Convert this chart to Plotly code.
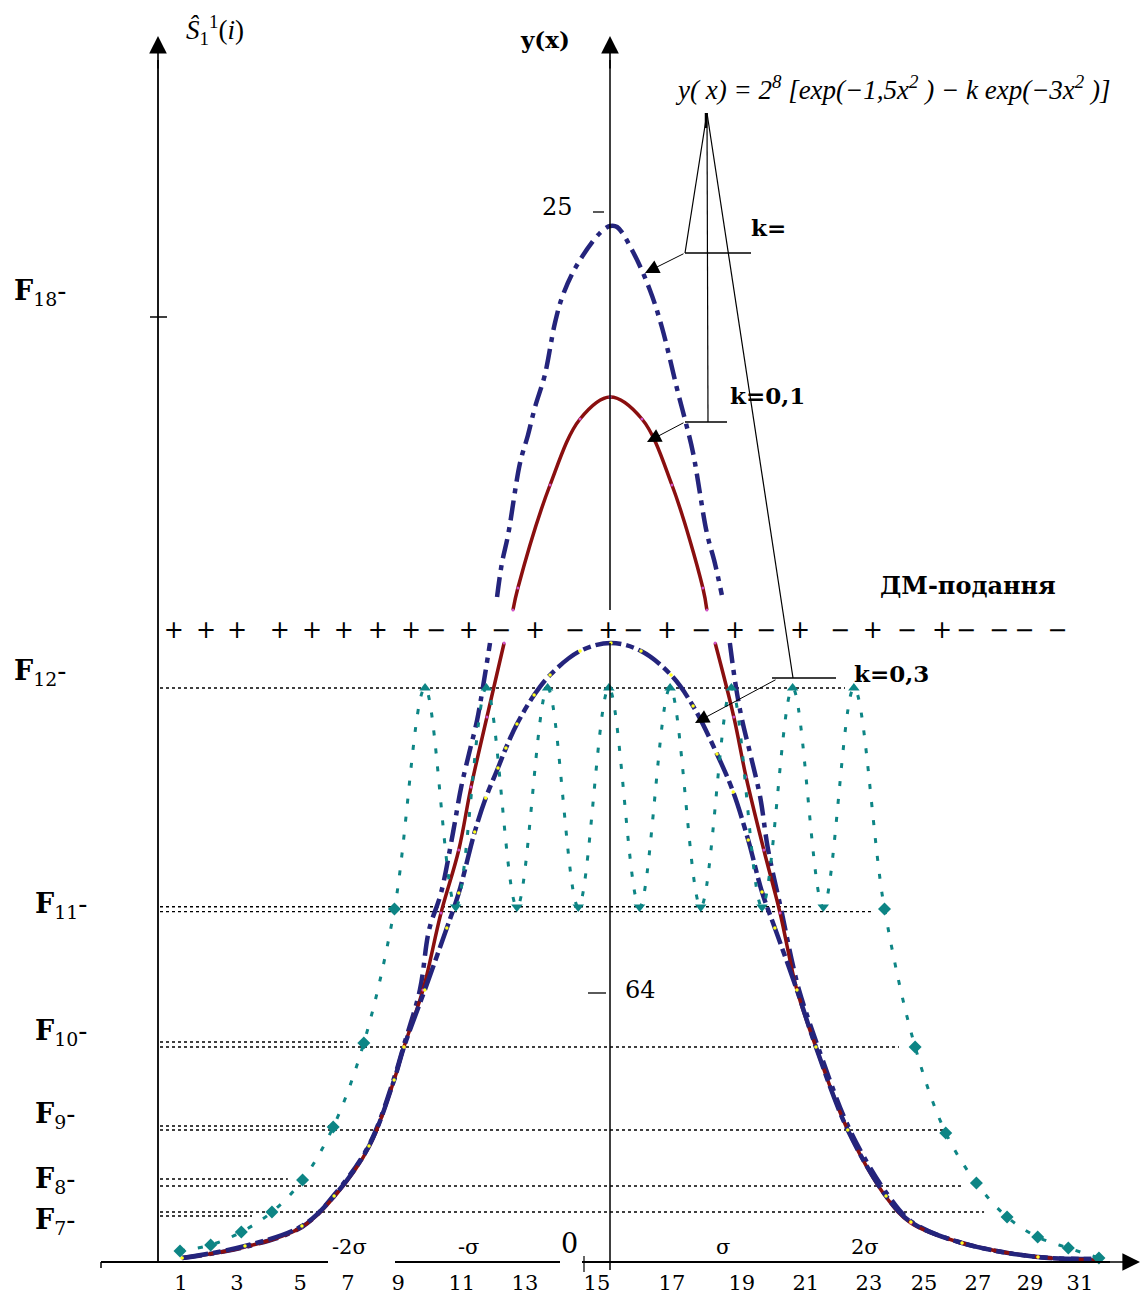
import plotly.graph_objects as go

W, H = 1141, 1299

# ---------------------------------------------------------------- data
# DM-representation (teal dotted curve), one value per sample index i
dm_index = list(range(1, 32))
dm_values = [2.25, 3.75, 7, 12, 20, 33.25, 54.25, 87.75, 143, 88.25, 143, 88.25,
             143, 88.25, 143, 88.25, 143, 88.25, 143, 88.25, 143, 88.25, 143,
             87.75, 53.25, 31.75, 19.25, 10.75, 5.75, 3, 0.5]

# y(x) for k = 0.1 (dark red, solid); None = break at the DM row
k01_x = [1.07, 3.12, 4.98, 6.03, 7.17, 7.99, 8.31, 8.93, 9.52, 10.10, 10.50, 11.02,
         11.58, None, 11.87, 12.03, 13.08, 14.06, 15.04, 16.08, 17.06,
         18.07, 18.20, None, 18.47, 19.08, 19.48, 20.06, 20.59, 21.14, 21.76, 22.80,
         24.05, 24.86, 26.53, 29.01, 31.0]
k01_y = [0.5, 3.25, 8.25, 15.75, 28.25, 45, 53.25, 67.5, 86.75, 102.5, 118.25, 135.75,
         154.25, None, 162.5, 168, 193.75, 210.25, 215.75, 210.25, 193.75,
         168, 162.5, None, 154.25, 135.75, 120.75, 102.5, 86.75, 67.5, 53.25, 32.5,
         15.75, 9.25, 4.25, 0.75, 0]

# y(x) for k = 0 ("k=", navy dash-dot)
k0_x = [1.07, 3.12, 4.98, 6.03, 7.17, 7.99, 8.31, 8.83, 9.13, 9.52, 9.91, 10.18, 10.44,
        10.70, 10.89, 11.12, None, 11.35, 11.51, 11.71, 12.10, 12.36, 12.59, 12.91,
        13.24, 13.50, 13.96, 14.71, 15.04, 15.27, 15.79, 16.34, 16.73, 17.26, 17.49,
        17.75, 18.20, 18.46, 18.69, None, 18.95, 19.15, 19.35, 19.61, 19.94, 20.20,
        20.65, 20.97, 21.21, 21.83, 22.87, 24.11, 24.90, 26.53, 29.01, 31.0]
k0_y = [0.5, 3.25, 8.25, 16.25, 28.75, 45.5, 53.75, 67.5, 82.5, 91.75, 106.75, 118.25,
        126.75, 135, 143.25, 154.25, None, 165.75, 174.25, 181.25, 199.25, 206.25,
        213.25, 221.25, 234.25, 241.25, 248.75, 256.75, 258.5, 258.25, 252, 242.5,
        233.25, 216.75, 210, 201.75, 181.75, 174.25, 166.25, None, 154.25, 143.25,
        135, 126.75, 115.75, 102.5, 86.75, 75, 67.5, 53.25, 32.5, 16.25, 9.5, 4.25,
        0.75, 0.25]

# y(x) for k = 0.3 (navy, dashed)
k03_x = [1.07, 3.12, 4.98, 6.03, 7.17, 7.99, 8.31, 8.99, 9.71, 10.10, 10.62, 10.98,
         11.38, 11.64, 12.00, 12.56, 13.08, 14.06, 15.07, 16.05, 17.03, 17.75, 18.53,
         19.06, 19.55, 20.00, 20.42, 21.14, 21.76, 22.80, 24.05, 24.86, 26.53, 29.01, 31.0]
k03_y = [0.5, 3.5, 8.5, 16, 28.5, 45, 53.25, 67.5, 83, 91.75, 107, 115.5, 123,
         128, 134, 141.25, 146.25, 152.25, 154.25, 152.25, 146.25, 138.5, 126.5,
         117, 105, 92, 83, 67.5, 53.25, 32.5, 16, 9.5, 4.25, 0.75, 0.25]

# DM code signs and where they sit along the index axis
dm_signs = ["+", "+", "+", "+", "+", "+", "+", "+",
            "−", "+", "−", "+", "−", "+", "−", "+", "−", "+", "−", "+", "−", "+", "−", "+",
            "−", "−", "−", "−", "−", "−"][:28]
dm_sign_x = [0.80, 1.85, 2.86, 4.26, 5.31, 6.35, 7.46, 8.54, 9.36, 10.43, 11.48, 12.59,
             13.89, 14.98, 15.79, 16.90, 18.01, 19.12, 20.13, 21.24, 22.55, 23.62, 24.73,
             25.88, 26.66, 27.74, 28.56, 29.64]
dm_row_level = 157

# quantisation levels (dotted lines): level value and index where the line ends
level_y = [143, 88.3, 87.1, 54.5, 53.25, 33.5, 32.5, 20.25, 18.5, 12, 11]
level_end = [22.71, 21.63, 23.59, 6.48, 24.47, 5.99, 25.94, 4.52, 26.56, 27.25, 3.35]

# x tick labels and where they are printed
xtick_labels = [1, 3, 5, 7, 9, 11, 13, 15, 17, 19, 21, 23, 25, 27, 29, 31]
xtick_pos = [1.03, 2.86, 4.92, 6.48, 8.12, 10.20, 12.26, 14.61, 17.06, 19.34, 21.43,
             23.49, 25.29, 27.05, 28.75, 30.38]

# ---------------------------------------------------------------- layout helpers
X0, XS = 149.4, 30.63
Y0, YS = 1260.0, 4.0


def px_to_x(px):
    return (px - X0) / XS


def py_to_y(py):
    return (Y0 - py) / YS


def fx(px):
    return px / W


def fy(py):
    return 1 - py / H


NAVY = "#24247c"
RED = "#8a0f0f"
TEAL = "#0d8585"
SERIF = "DejaVu Serif"

fig = go.Figure()

# level dotted lines
lx, ly = [], []
for lv, le in zip(level_y, level_end):
    lx += [px_to_x(160), le, None]
    ly += [lv, lv, None]
fig.add_trace(go.Scatter(x=lx, y=ly, mode="lines",
                         line=dict(color="black", width=1.4, dash="dot"),
                         hoverinfo="skip"))

fig.add_trace(go.Scatter(x=k0_x, y=k0_y, mode="lines",
                         line=dict(color=NAVY, width=4.5, dash="20px,7px,5px,7px",
                                   shape="spline", smoothing=1.0),
                         hoverinfo="skip"))
fig.add_trace(go.Scatter(x=k01_x, y=k01_y, mode="lines+markers",
                         line=dict(color=RED, width=3.5, shape="spline", smoothing=1.0),
                         marker=dict(color="#d050c8", size=3, line=dict(width=0)),
                         hoverinfo="skip"))
fig.add_trace(go.Scatter(x=k03_x, y=k03_y, mode="lines+markers",
                         line=dict(color=NAVY, width=4.5, dash="26px,5px,8px,5px",
                                   shape="spline", smoothing=1.0),
                         marker=dict(color="#ffff20", size=3.5, line=dict(width=0)),
                         hoverinfo="skip"))

symbols = []
for j, v in enumerate(dm_values):
    p = dm_values[j - 1] if j > 0 else None
    n = dm_values[j + 1] if j < len(dm_values) - 1 else None
    if p is not None and n is not None and v > p and v > n:
        symbols.append("triangle-up")
    elif p is not None and n is not None and v < p and v < n:
        symbols.append("triangle-down")
    else:
        symbols.append("diamond")
fig.add_trace(go.Scatter(x=dm_index, y=dm_values, mode="lines+markers",
                         line=dict(color=TEAL, width=3, dash="5px,13px",
                                   shape="spline", smoothing=1.0),
                         marker=dict(color=TEAL, size=10, symbol=symbols, line=dict(width=0)),
                         hoverinfo="skip"))

# DM sign row
fig.add_trace(go.Scatter(x=dm_sign_x, y=[dm_row_level] * len(dm_sign_x), mode="text",
                         text=dm_signs, textposition="middle center",
                         textfont=dict(family="DejaVu Sans", size=24, color="black"),
                         cliponaxis=False, hoverinfo="skip"))

# x tick labels
fig.add_trace(go.Scatter(x=xtick_pos, y=[py_to_y(1285)] * len(xtick_pos), mode="text",
                         text=[str(t) for t in xtick_labels], textposition="middle center",
                         textfont=dict(family=SERIF, size=21, color="black"),
                         cliponaxis=False, hoverinfo="skip"))

shapes = []


def seg(x1, y1, x2, y2, w=1.3, color="black"):
    shapes.append(dict(type="line", xref="paper", yref="paper",
                       x0=fx(x1), y0=fy(y1), x1=fx(x2), y1=fy(y2),
                       line=dict(color=color, width=w)))


# axes
seg(158, 1262, 158, 60, 1.8)
seg(150, 317, 167, 317, 1.5)
seg(610, 610, 610, 60, 1.5)
seg(610, 643, 610, 1270, 1.5)
seg(101, 1262, 328, 1262, 1.8)
seg(101, 1262, 101, 1268, 1.5)
seg(395, 1262, 560, 1262, 1.8)
seg(582, 1262, 1110, 1262, 1.8)
seg(584, 1256, 584, 1272, 1.2)
seg(593, 212, 604, 212, 1.3)
seg(588, 993, 606, 993, 1.3)

# leader lines
seg(707, 113, 685, 253, 1.2)
seg(707, 113, 708, 422, 1.2)
seg(707, 113, 793, 678, 1.2)
seg(706, 113, 706, 128, 2.5)
seg(685, 253, 751, 253, 1.3)
seg(685, 422, 727, 422, 1.3)
seg(772, 678, 836, 678, 1.3)

ann = []


def arrow(tipx, tipy, tailx, taily, w=1.0, size=2.8):
    ann.append(dict(xref="paper", yref="paper", x=fx(tipx), y=fy(tipy),
                    ax=tailx - tipx, ay=taily - tipy, axref="pixel", ayref="pixel",
                    showarrow=True, arrowhead=2, arrowsize=size, arrowwidth=w,
                    arrowcolor="black", text=""))


arrow(158, 36, 158, 70, 1.6, 2.2)
arrow(610, 36, 610, 70, 1.6, 2.2)
arrow(1140, 1262, 1100, 1262, 1.6, 2.2)
arrow(645, 273, 685, 253)
arrow(647, 442, 685, 422)
arrow(695, 723, 777, 679)


def text(px, py, s, size=22, family=SERIF, xanchor="center", bold=False, italic=False):
    if bold:
        s = "<b>" + s + "</b>"
    if italic:
        s = "<i>" + s + "</i>"
    ann.append(dict(xref="paper", yref="paper", x=fx(px), y=fy(py), text=s,
                    showarrow=False, xanchor=xanchor, yanchor="middle",
                    font=dict(family=family, size=size, color="black")))


text(215, 30, "<i>Ŝ</i><sub>1</sub><sup>1</sup>(<i>i</i>)", 27, "Liberation Serif")
text(545, 40, "y(x)", 23, bold=True)
text(893, 88, "y( x) = 2<sup>8</sup> [exp(−1,5x<sup>2</sup> ) − k exp(−3x<sup>2</sup> )]",
     27, "Liberation Serif", italic=True)
text(557, 207, "25", 24)
text(640, 990, "64", 24)
text(749, 228, "k=", 23, xanchor="left", bold=True)
text(728, 396, "k=0,1", 23, xanchor="left", bold=True)
text(852, 673, "k=0,3", 23, xanchor="left", bold=True)
text(878, 585, "ДМ-подання", 24, xanchor="left", bold=True)

for name, px, py in [("18", 12, 292), ("12", 12, 672), ("11", 33, 905), ("10", 33, 1032),
                     ("9", 33, 1115), ("8", 33, 1180), ("7", 33, 1221)]:
    text(px, py, "<b>F</b><sub>" + name + "</sub>-", 27, xanchor="left")

for s, px, py, sz in [("-2σ", 349, 1247, 21), ("-σ", 468, 1247, 21), ("0", 569, 1243, 27),
                      ("σ", 723, 1247, 21), ("2σ", 865, 1247, 21)]:
    text(px, py, s, sz)

fig.update_layout(
    width=W, height=H, margin=dict(l=0, r=0, t=0, b=0),
    paper_bgcolor="white", plot_bgcolor="white", showlegend=False,
    xaxis=dict(range=[px_to_x(0), px_to_x(W)], visible=False, fixedrange=True),
    yaxis=dict(range=[py_to_y(H), py_to_y(0)], visible=False, fixedrange=True),
    shapes=shapes, annotations=ann,
)

fig.write_html("out.html", config={"displayModeBar": False},
               post_script="document.body.style.margin='0';document.body.style.overflow='hidden';")
